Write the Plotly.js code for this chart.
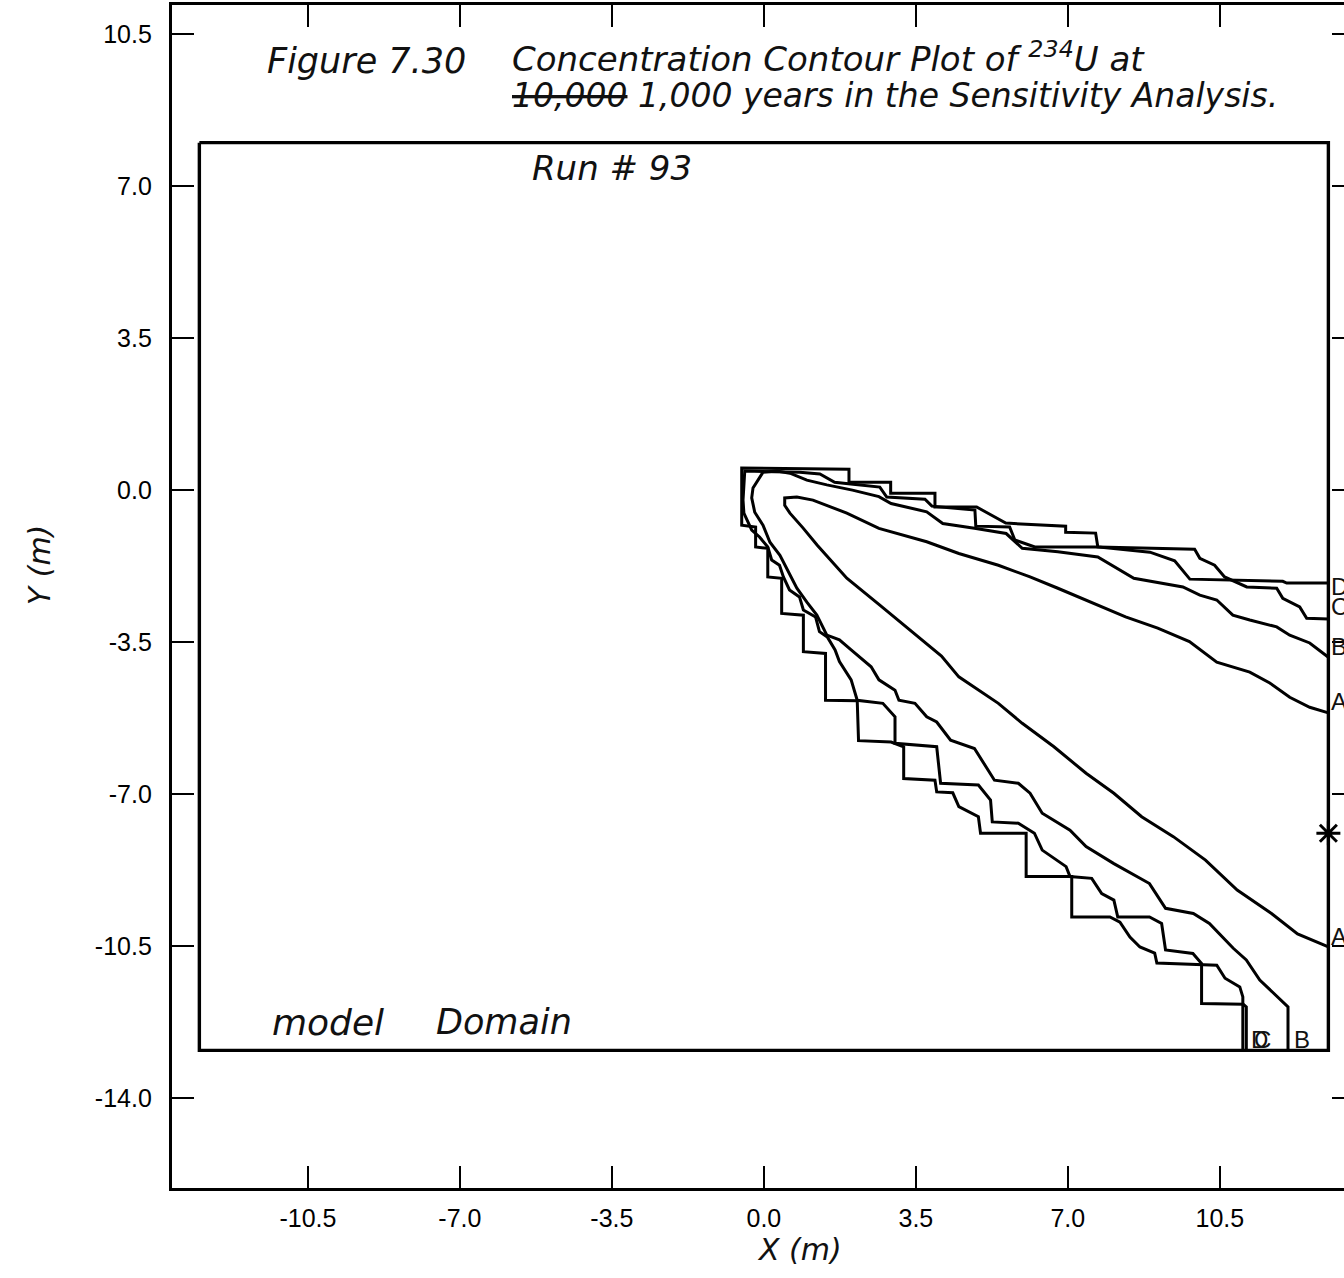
<!DOCTYPE html>
<html>
<head>
<meta charset="utf-8">
<script src="https://cdn.plot.ly/plotly-3.0.1.min.js"></script>
<style>
  html, body { margin: 0; padding: 0; background: #fff; overflow: hidden; }
  #chart { width: 1380px; height: 1278px; }
</style>
</head>
<body>
<div id="chart"></div>
<script>
// ---- data (metres) ----
const tickValues = [-14.0, -10.5, -7.0, -3.5, 0.0, 3.5, 7.0, 10.5];

const domainXRange = [-13.0, 13.0];
const domainYRange = [-12.9, 8.0];

const contourA_x = [13.0, 12.57, 12.11, 11.65, 11.19, 10.43, 9.80, 9.07, 8.33, 7.51, 6.77, 6.13, 5.40, 4.49, 3.75, 2.65, 1.91, 1.13, 0.76, 0.48, 0.48, 0.60, 0.90, 1.23, 1.91, 2.67, 3.43, 4.09, 4.49, 5.40, 5.95, 6.68, 7.42, 8.06, 8.70, 9.43, 10.17, 10.90, 11.69, 12.29, 13.0];
const contourA_y = [-5.13, -5.00, -4.77, -4.44, -4.19, -3.96, -3.49, -3.18, -2.92, -2.57, -2.26, -2.00, -1.73, -1.46, -1.19, -0.88, -0.53, -0.23, -0.16, -0.18, -0.35, -0.53, -0.87, -1.27, -2.03, -2.65, -3.27, -3.82, -4.30, -4.91, -5.37, -5.91, -6.52, -6.98, -7.52, -7.98, -8.52, -9.21, -9.75, -10.22, -10.52];

const contourB_x = [13.0, 12.57, 12.11, 11.81, 11.19, 10.80, 10.43, 10.04, 9.65, 8.89, 8.52, 7.69, 6.77, 5.95, 5.58, 4.85, 4.12, 3.75, 2.93, 2.65, 2.04, 1.45, 0.99, 0.60, 0.30, -0.02, -0.25, -0.28, -0.21, -0.02, 0.14, 0.37, 0.55, 0.76, 0.99, 1.22, 1.45, 1.74, 2.01, 2.29, 2.47, 2.65, 3.02, 3.11, 3.48, 3.75, 3.98, 4.30, 4.85, 5.31, 5.86, 6.13, 6.41, 7.05, 7.42, 8.06, 8.61, 8.88, 9.25, 9.89, 10.26, 10.81, 11.11, 11.42, 12.07, 12.07];
const contourB_y = [-3.85, -3.52, -3.34, -3.15, -2.99, -2.88, -2.53, -2.42, -2.23, -2.10, -2.03, -1.54, -1.42, -1.34, -1.00, -0.88, -0.77, -0.50, -0.31, -0.15, 0.00, 0.12, 0.23, 0.39, 0.44, 0.41, 0.05, -0.18, -0.51, -0.81, -1.20, -1.50, -1.84, -2.26, -2.58, -2.88, -3.34, -3.45, -3.68, -3.91, -4.07, -4.37, -4.61, -4.84, -4.91, -5.22, -5.34, -5.76, -5.95, -6.68, -6.75, -6.98, -7.44, -7.83, -8.21, -8.60, -8.90, -9.06, -9.63, -9.75, -9.98, -10.55, -10.82, -11.28, -11.90, -12.9];

const contourC_x = [13.0, 12.50, 12.34, 11.95, 11.81, 11.12, 10.61, 10.38, 10.04, 9.92, 7.69, 6.24, 5.78, 5.66, 4.88, 4.86, 3.87, 3.71, 2.83, 2.67, 2.00, 1.63, 1.29, 0.83, -0.44, -0.48, -0.46, -0.37, -0.28, -0.10, 0.09, 0.18, 0.36, 0.45, 0.59, 0.82, 0.91, 1.19, 1.28, 1.46, 1.64, 1.74, 2.01, 2.15, 2.74, 3.02, 3.02, 3.98, 4.07, 4.94, 5.22, 5.26, 5.86, 6.23, 6.41, 6.96, 7.05, 7.55, 7.78, 8.06, 8.15, 8.88, 9.16, 9.25, 9.88, 10.08, 10.08, 11.04, 11.11, 11.11];
const contourC_y = [-2.97, -2.95, -2.69, -2.49, -2.26, -2.23, -2.00, -1.73, -1.57, -1.36, -1.31, -1.31, -1.15, -0.85, -0.83, -0.46, -0.37, -0.21, -0.16, 0.07, 0.14, 0.18, 0.37, 0.41, 0.44, -0.23, -0.53, -0.73, -0.92, -1.08, -1.31, -1.61, -1.73, -2.00, -2.30, -2.46, -2.76, -2.92, -3.26, -3.38, -3.68, -3.95, -4.37, -4.84, -4.91, -5.22, -5.83, -5.91, -6.75, -6.79, -7.14, -7.64, -7.67, -7.90, -8.29, -8.67, -8.90, -8.94, -9.29, -9.44, -9.83, -9.83, -9.98, -10.59, -10.67, -10.90, -11.82, -11.84, -11.90, -12.9];

const contourD_x = [13.0, 12.04, 11.95, 9.81, 9.46, 8.89, 7.69, 7.64, 6.95, 6.95, 5.57, 4.90, 3.94, 3.94, 2.92, 2.92, 1.96, 1.96, -0.51, -0.51, -0.19, -0.19, 0.09, 0.09, 0.41, 0.41, 0.91, 0.91, 1.42, 1.42, 2.15, 2.18, 2.93, 3.22, 3.22, 3.94, 3.98, 4.35, 4.49, 4.94, 4.99, 6.04, 6.04, 7.09, 7.09, 7.97, 8.20, 8.43, 8.66, 9.00, 9.05, 10.43, 10.62, 10.96, 11.03, 11.03];
const contourD_y = [-2.14, -2.14, -2.10, -2.05, -1.63, -1.43, -1.31, -0.99, -0.97, -0.83, -0.76, -0.39, -0.39, -0.07, -0.07, 0.18, 0.18, 0.48, 0.51, -0.81, -0.85, -1.31, -1.34, -2.00, -2.03, -2.84, -2.88, -3.72, -3.76, -4.84, -4.85, -5.77, -5.80, -5.91, -6.64, -6.68, -6.95, -6.97, -7.29, -7.52, -7.90, -7.90, -8.90, -8.90, -9.83, -9.83, -9.95, -10.29, -10.52, -10.66, -10.89, -10.94, -11.24, -11.44, -11.67, -12.9];

const edgeLabels = ['D', 'C', 'B', 'A', 'A'];
const edgeLabelY = [-2.23, -2.69, -3.59, -4.86, -10.29];
const bottomLabels = ['D', 'C', 'B'];
const bottomLabelX = [11.17, 11.24, 12.16];
const bottomLabelY = -12.66;

const wellX = [13.0];
const wellY = [-7.90];

// ---- figure ----
const lineStyle = {color: '#000', width: 3};
const contours = [
  [contourA_x, contourA_y], [contourB_x, contourB_y],
  [contourC_x, contourC_y], [contourD_x, contourD_y]
];
const traces = [];
traces.push({
  x: [domainXRange[0], domainXRange[1], domainXRange[1], domainXRange[0], domainXRange[0]],
  y: [domainYRange[1], domainYRange[1], domainYRange[0], domainYRange[0], domainYRange[1]],
  mode: 'lines', line: {color: '#000', width: 3.4}, hoverinfo: 'skip', showlegend: false
});
contours.forEach(c => traces.push({
  x: c[0], y: c[1], mode: 'lines', line: lineStyle, hoverinfo: 'skip', showlegend: false
}));
traces.push({
  x: wellX, y: wellY, mode: 'markers',
  marker: {symbol: 'asterisk-open', size: 20, color: '#000', line: {color: '#000', width: 3}},
  showlegend: false, hoverinfo: 'skip', cliponaxis: false
});

const hand = {family: 'DejaVu Sans', color: '#111'};
const lblFont = {family: 'Liberation Sans, Arial, sans-serif', size: 24, color: '#111'};
const annotations = [];
edgeLabels.forEach((t, i) => annotations.push({
  x: domainXRange[1], y: edgeLabelY[i], xref: 'x', yref: 'y', text: t, showarrow: false,
  xanchor: 'left', yanchor: 'middle', xshift: 1, font: lblFont
}));
bottomLabels.forEach((t, i) => annotations.push({
  x: bottomLabelX[i], y: bottomLabelY, xref: 'x', yref: 'y', text: t, showarrow: false,
  xanchor: 'left', yanchor: 'middle', font: lblFont
}));
const handText = [
  {text: '<i>Figure 7.30</i>', x: -11.49, y: 9.88, size: 35},
  {text: '<i>Concentration Contour Plot of <sup>234</sup>U at</i>', x: -5.85, y: 9.98, size: 34},
  {text: '<i><s>10,000</s> 1,000 years in the Sensitivity Analysis.</i>', x: -5.85, y: 9.08, size: 33},
  {text: '<i>Run # 93</i>', x: -5.39, y: 7.41, size: 34},
  {text: '<i>model</i>', x: -11.37, y: -12.25, size: 36},
  {text: '<i>Domain</i>', x: -7.60, y: -12.25, size: 35}
];
handText.forEach(h => annotations.push({
  x: h.x, y: h.y, xref: 'x', yref: 'y', text: h.text, showarrow: false,
  xanchor: 'left', yanchor: 'middle', font: Object.assign({size: h.size}, hand)
}));
annotations.push({
  x: 0.531, y: -0.052, xref: 'paper', yref: 'paper', text: '<i>X (m)</i>', showarrow: false,
  xanchor: 'center', yanchor: 'middle', font: Object.assign({size: 30}, hand)
});
annotations.push({
  x: -0.112, y: 0.527, xref: 'paper', yref: 'paper', text: '<i>Y (m)</i>', showarrow: false,
  textangle: -90, xanchor: 'center', yanchor: 'middle', font: Object.assign({size: 30}, hand)
});

const axisCommon = {
  tickvals: tickValues,
  ticktext: tickValues.map(v => v.toFixed(1)),
  ticks: 'inside', ticklen: 22, tickwidth: 1.6, tickcolor: '#000',
  showline: true, linewidth: 3.2, linecolor: '#000', mirror: 'ticks',
  showgrid: false, zeroline: false,
  tickfont: {family: 'Liberation Sans, Arial, sans-serif', size: 25, color: '#000'}
};

const layout = {
  width: 1380, height: 1278,
  margin: {l: 172, r: 26, t: 5, b: 90},
  paper_bgcolor: '#fff', plot_bgcolor: '#fff',
  showlegend: false,
  xaxis: Object.assign({}, axisCommon, {range: [-13.63, 13.59], ticklabelstandoff: 6}),
  yaxis: Object.assign({}, axisCommon, {range: [-16.07, 11.17], ticklabelstandoff: 12}),
  annotations: annotations
};

Plotly.newPlot('chart', traces, layout, {staticPlot: true});
</script>
</body>
</html>
